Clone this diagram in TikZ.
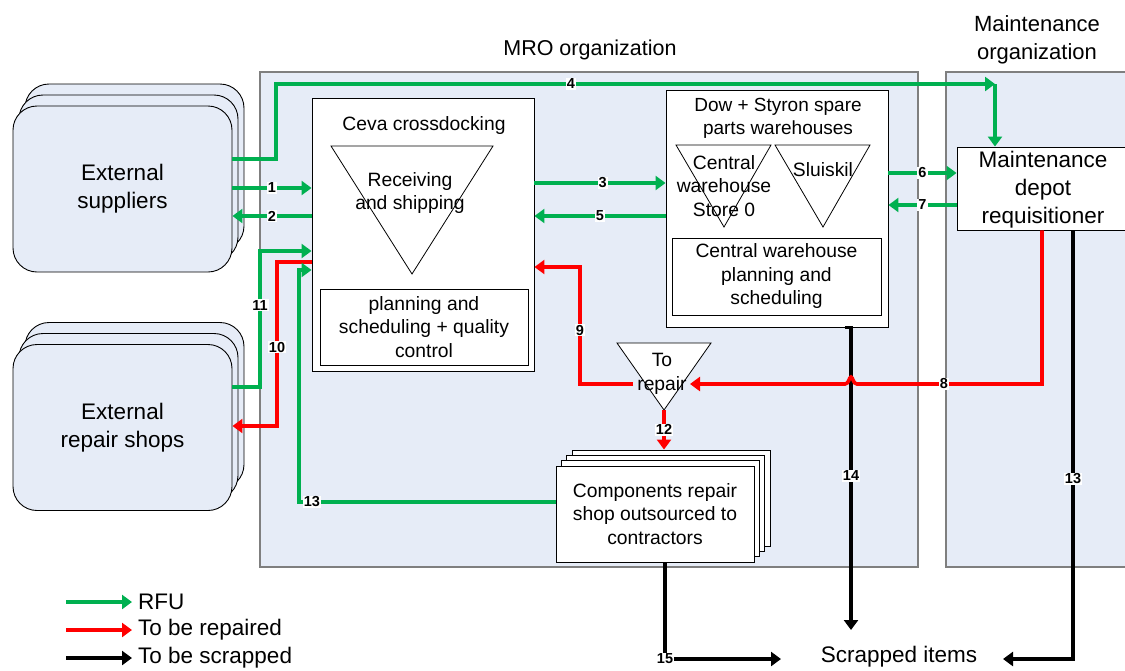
\documentclass[tikz,border=0pt]{standalone}
\usepackage{fontspec}
\setmainfont{Liberation Sans}
\usetikzlibrary{arrows.meta,calc}
\definecolor{rfu}{HTML}{00B050}
\definecolor{rep}{HTML}{FF0000}
\definecolor{orgfill}{HTML}{E6ECF7}
\definecolor{orgline}{HTML}{7F7F7F}
\begin{document}
\begin{tikzpicture}[x=1pt,y=-1pt,
  org/.style={draw=orgline,fill=orgfill,line width=1.3pt},
  box/.style={draw=black,fill=white,line width=0.9pt,inner sep=0pt},
  tri/.style={draw=black,fill=white,line width=0.8pt,line join=miter},
  ext/.style={draw=black,fill=orgfill,line width=0.9pt,rounded corners=24pt,
    minimum width=219pt,minimum height=166pt,inner sep=0pt,align=center,
    font=\fontsize{22.5}{28}\selectfont},
  txt/.style={align=center,inner sep=0pt,font=\fontsize{19.3}{23.5}\selectfont},
  big/.style={align=center,inner sep=0pt,font=\fontsize{22.5}{28}\selectfont},
  flow/.style={line width=3.6pt,-{Triangle[length=10pt,width=14pt]}},
  g/.style={flow,draw=rfu},
  r/.style={flow,draw=rep},
  k/.style={flow,draw=black},
  lbl/.style={fill=white,inner sep=1pt,text=black,
    font=\bfseries\fontsize{14.5}{14.5}\selectfont},
]
\useasboundingbox (0,0) rectangle (1125,670);
\clip (0,0) rectangle (1125,670);

% organisation areas
\draw[org] (260,72) rectangle (918,567);
\draw[org] (946,72) rectangle (1140,567);
\node[big,font=\fontsize{21.5}{26}\selectfont] (mrot) at (590,50) {MRO organization};
\node[big,font=\fontsize{22}{28}\selectfont] (mot) at (1037,40) {Maintenance\\organization};

% external parties (stacked rounded boxes)
\node[ext] (sup3) at (134.5,167) {};
\node[ext] (sup2) at (128.5,178) {};
\node[ext] (sup)  at (122.5,189) {External\\suppliers};
\node[ext] (rsh3) at (134.5,405.5) {};
\node[ext] (rsh2) at (128.5,416.5) {};
\node[ext] (rsh)  at (122.5,427.5) {External\\repair shops};

% Ceva crossdocking
\node[box,minimum width=222pt,minimum height=273pt] (ceva) at (423,235) {};
\node[txt] (cevat) at (424,126) {Ceva crossdocking};
\draw[tri] (331,146) -- (493,146) -- (412,274) -- cycle;
\node[txt] (recv) at (410,193) {Receiving\\and shipping};
\node[box,minimum width=208pt,minimum height=76pt,txt] (cevap) at (424,327)
  {planning and\\scheduling + quality\\control};

% Dow + Styron warehouses
\node[box,minimum width=222pt,minimum height=237pt] (dow) at (777,208.5) {};
\node[txt,font=\fontsize{19}{23}\selectfont] (dowt) at (778,118) {Dow + Styron spare\\parts warehouses};
\draw[tri] (676,145) -- (771,145) -- (724,227) -- cycle;
\draw[tri] (775,145) -- (870,145) -- (823,227) -- cycle;
\node[txt] (store0) at (724,186) {Central\\warehouse\\Store 0};
\node[txt] (sluis) at (823,170) {Sluiskil};
\node[box,minimum width=209pt,minimum height=77pt,txt] (cwp) at (776.5,276.5)
  {Central warehouse\\planning and\\scheduling};

% maintenance depot
\node[box,minimum width=175pt,minimum height=83pt] (maint) at (1044.5,188.5) {};
\node[big] (maintt) at (1043,190) {Maintenance\\depot\\requisitioner};

% to repair
\draw[tri] (617,343) -- (711,343) -- (664,410) -- cycle;
\coordinate (repapex) at (664,410);
\node[txt] (torep) at (662,374) {To\\repair};

% outsourced repair shop (stacked sheets)
\node[box,minimum width=198pt,minimum height=96pt] (comp3) at (671,498) {};
\node[box,minimum width=198pt,minimum height=96pt] (comp2) at (665.5,503) {};
\node[box,minimum width=198pt,minimum height=96pt] (comp1) at (660.3,508) {};
\node[box,minimum width=198pt,minimum height=96pt,txt] (comp) at (655,514)
  {Components repair\\shop outsourced to\\contractors};

\node[big] (scr) at (899,657) {Scrapped items};
\coordinate (scrR) at (1003,659);
\coordinate (scrL) at (781,659);
\coordinate (scrT) at (851,630);

% flows
\coordinate (c4) at (995,84);
\draw[g] (sup.east |- 0,159) -| (276,84) -- node[lbl,pos=0.41] (l4) {4} (c4);
\draw[g] (c4) -- (c4 |- maint.north);
\draw[g] (sup.east |- 0,188) -- node[lbl] (l1) {1} (ceva.west |- 0,188);
\draw[g] (ceva.west |- 0,216) -- node[lbl] (l2) {2} (sup.east |- 0,216);
\draw[g] (rsh.east |- 0,387) -| node[lbl,pos=0.80] (l11) {11} (260,251) -- (ceva.west |- 0,251);
\draw[r] (ceva.west |- 0,262) -| node[lbl,pos=0.76] (l10) {10} (277,426) -- (rsh.east |- 0,426);
\draw[g] (comp.west |- 0,502) -| node[lbl,pos=0.475] (l13g) {13} (299,270) -- (ceva.west |- 0,270);
\draw[g] (ceva.east |- 0,183) -- node[lbl,pos=0.52] (l3) {3} (dow.west |- 0,183);
\draw[g] (dow.west |- 0,216) -- node[lbl,pos=0.5] (l5) {5} (ceva.east |- 0,216);
\draw[g] (dow.east |- 0,173) -- node[lbl] (l6) {6} (maint.west |- 0,173);
\draw[g] (maint.west |- 0,205) -- node[lbl] (l7) {7} (dow.east |- 0,205);

\coordinate (rep8) at (690,384);
\coordinate (rep9) at (633,384);
\draw[k] (845,0 |- dow.south) -- (851,0 |- dow.south) -- node[lbl,pos=0.49] (l14) {14} (scrT);
\draw[r] (1042,0 |- maint.south) -- (1042,384) -- node[lbl,pos=0.53] (l8) {8} (857,384)
  .. controls (853,384) and (853,377) .. (851,377)
  .. controls (849,377) and (849,384) .. (845,384) -- (rep8);
\draw[r] (rep9) -| node[lbl,pos=0.73] (l9) {9} (580,267) -- (ceva.east |- 0,267);
\draw[r] (repapex) -- node[lbl,pos=0.5] (l12) {12} (repapex |- comp3.north);
\draw[k] (1073,0 |- maint.south) |- node[lbl,pos=0.29] (l13k) {13} (scrR);
\draw[k] (665,0 |- comp.south) |- node[lbl,pos=0.5] (l15) {15} (scrL);

% legend
\node[big,anchor=west] (lg1) at (138,602) {RFU};
\node[big,anchor=west] (lg2) at (138,630) {To be repaired};
\node[big,anchor=west] (lg3) at (138,658) {To be scrapped};
\draw[g] (66,602) -- (lg1.west -| 132,0);
\draw[r] (66,630) -- (lg2.west -| 132,0);
\draw[k] (66,658) -- (lg3.west -| 132,0);
\end{tikzpicture}
\end{document}
